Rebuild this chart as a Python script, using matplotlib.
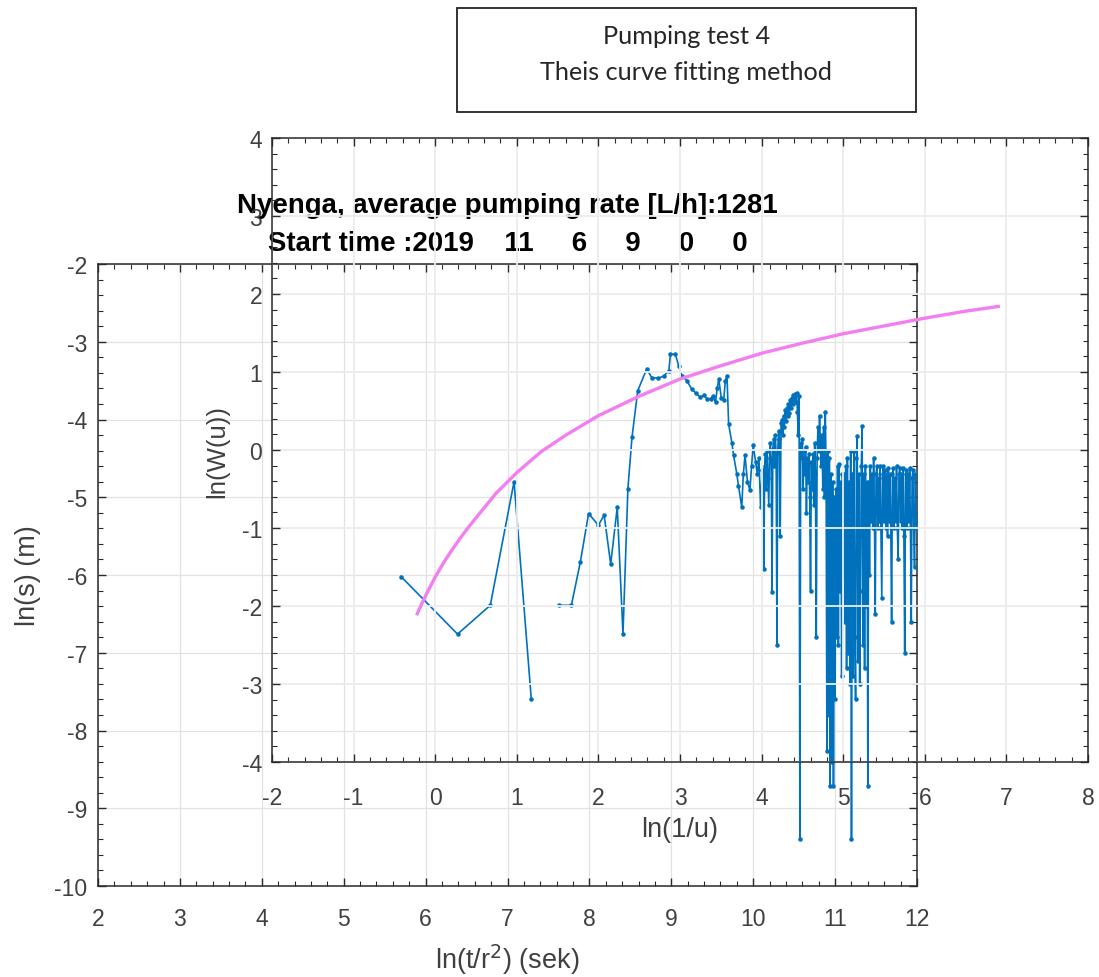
import numpy as np
import matplotlib
matplotlib.use("Agg")
import matplotlib.pyplot as plt
from matplotlib.ticker import MultipleLocator, AutoMinorLocator
from matplotlib.patches import Rectangle

plt.rcParams["axes.unicode_minus"] = False
nan = np.nan

# ---- measured drawdown data (back axes): ln(t/r^2) vs ln(s) ----
ln_t = [5.70, 6.39, 6.79, 7.08, 7.29, nan,
        7.63, 7.78, 7.89, 7.99, 8.11, 8.18, 8.26, 8.34, 8.41, 8.47, 8.52, 8.59,
        8.70, 8.76, 8.84, 8.91, 8.97, 8.99, 9.05, 9.09, 9.13, 9.19, 9.25, 9.30,
        9.35, 9.40, 9.44, 9.48, 9.51, 9.54, 9.56, 9.58, 9.61, 9.64, 9.66, 9.68,
        9.70, 9.74, 9.76, 9.80, 9.82, 9.86, 9.88, 9.90, 9.93, 9.96, 9.98, 10.00,
        10.03, 10.05, 10.07, 10.09, 10.11,
        10.12, 10.13, 10.14, 10.15, 10.16, 10.17, 10.18, 10.19, 10.20, 10.21,
        10.22, 10.23, 10.24, 10.25, 10.26, 10.27, 10.28, 10.29, 10.30, 10.31,
        10.32, 10.33, 10.34, 10.35, 10.36, 10.37, 10.38, 10.39, 10.40, 10.41,
        10.42, 10.43, 10.44, 10.45, 10.46, 10.47, 10.48, 10.49, 10.50, 10.51,
        10.52, 10.53, 10.54, 10.55, 10.56, 10.57, 10.58, 10.59, 10.60, 10.61,
        10.62, 10.63, 10.64, 10.65, 10.66, 10.67, 10.68, 10.69, 10.70, 10.71,
        10.72, 10.73, 10.74, 10.75, 10.76, 10.77, 10.78, 10.79, 10.80, 10.81,
        10.82, 10.83, 10.84, 10.85, 10.86, 10.87, 10.88, 10.89, 10.90, 10.91,
        10.92, 10.93, 10.94, 10.95, 10.96, 10.97, 10.98, 10.99, 11.00, 11.01,
        11.02, 11.03, 11.04, 11.05, 11.06, 11.07, 11.08, 11.09, 11.10, 11.11,
        11.12, 11.13, 11.14, 11.15, 11.16, 11.17, 11.18, 11.19, 11.20, 11.21,
        11.22, 11.23, 11.24, 11.25, 11.26, 11.27, 11.28, 11.29, 11.30, 11.31,
        11.32, 11.33, 11.34, 11.35, 11.36, 11.37, 11.38, 11.39, 11.40, 11.41,
        11.42, 11.43, 11.44, 11.45, 11.46, 11.47, 11.48, 11.49, 11.50, 11.51,
        11.52, 11.53, 11.54, 11.55, 11.56, 11.57, 11.58, 11.59, 11.60, 11.61,
        11.62, 11.63, 11.64, 11.65, 11.66, 11.67, 11.68, 11.69, 11.70, 11.71,
        11.72, 11.73, 11.74, 11.75, 11.76, 11.77, 11.78, 11.79, 11.80, 11.81,
        11.82, 11.83, 11.84, 11.85, 11.86, 11.87, 11.88, 11.89, 11.90, 11.91,
        11.92, 11.93, 11.94, 11.95, 11.96, 11.97, 11.98, 11.99, 12.00]
ln_s = [-6.02, -6.76, -6.39, -4.80, -7.59, nan,
        -6.39, -6.39, -5.83, -5.21, -5.36, -5.23, -5.86, -5.13, -6.76, -4.89, -4.23, -3.63,
        -3.35, -3.46, -3.47, -3.44, -3.37, -3.16, -3.16, -3.31, -3.44, -3.50, -3.61, -3.66,
        -3.71, -3.69, -3.74, -3.73, -3.70, -3.78, -3.60, -3.48, -3.72, -3.75, -3.50, -3.44,
        -4.06, -4.30, -4.46, -4.70, -4.85, -5.13, -4.70, -4.46, -4.80, -4.91, -4.60, -4.33,
        -4.55, -4.70, -4.50, -5.13, -4.65,
        -4.65, -5.92, -4.60, -4.45, -4.90, -4.40, -4.75, -5.10, -4.50, -4.30,
        -4.55, -6.22, -4.38, -4.25, -4.60, -4.20, -4.45, -6.90, -4.40, -4.15,
        -4.25, -5.50, -4.05, -4.00, -4.20, -3.95, -4.10, -3.88, -4.02, -3.85,
        -3.95, -3.80, -3.92, -3.75, -3.85, -3.72, -3.80, -3.68, -3.75, -3.67,
        -3.78, -3.66, -3.90, -4.20, -3.70, -9.39, -4.30, -4.50, -4.25, -4.90,
        -4.40, -4.70, -4.35, -5.20, -4.50, -4.80, -4.45, -5.00, -6.20, -4.55,
        -4.90, -4.45, -5.10, -4.30, -4.70, -6.80, -4.50, -4.10, -4.40, -3.95,
        -4.30, -4.60, -4.20, -4.90, -4.10, -5.00, -3.90, -4.60, -8.27, -4.40,
        -7.80, -4.50, -8.71, -4.70, -8.40, -4.80, -8.71, -5.00, -7.60, -4.90,
        -6.80, -4.60, -6.90, -4.57, -6.20, -4.80, -7.30, -4.70, -6.00, -4.70,
        -6.60, -4.60, -7.20, -4.50, -7.00, -4.80, -7.40, -4.40, -9.39, -4.70,
        -7.30, -4.40, -6.80, -7.60, -4.50, -4.21, -7.10, -4.70, -7.40, -6.20,
        -4.60, -4.08, -6.90, -4.70, -7.20, -4.60, -6.40, -4.80, -8.71, -4.80,
        -6.00, -4.60, -5.30, -4.70, -5.40, -4.50, -5.20, -6.50, -4.70, -4.60,
        -5.40, -4.75, -5.30, -4.60, -5.40, -6.30, -4.70, -4.60, -5.30, -4.65,
        -5.40, -4.70, -5.50, -4.62, -5.30, -4.70, -5.40, -6.60, -4.70, -4.62,
        -5.40, -4.75, -5.30, -4.60, -5.40, -5.80, -4.70, -4.62, -5.30, -4.70,
        -5.40, -4.62, -5.50, -7.00, -4.70, -4.65, -5.40, -4.70, -5.30, -4.62,
        -5.40, -6.60, -4.75, -4.65, -5.40, -5.90, -4.70, -5.30, -5.40]

# ---- Theis type curve (front axes): ln(1/u) vs ln(W(u)) ----
ln_inv_u = [-0.22, -0.16, -0.10, -0.05, 0.00, 0.05, 0.10, 0.15, 0.20, 0.30, 0.40, 0.50,
            0.75, 1.00, 1.30, 1.60, 2.00, 2.50, 3.00, 3.50, 4.00, 4.50, 5.00,
            5.50, 6.00, 6.50, 6.90]
ln_W = [-2.10, -1.96, -1.83, -1.73, -1.63, -1.54, -1.45, -1.37, -1.29, -1.14, -1.00, -0.87,
        -0.55, -0.29, -0.02, 0.19, 0.44, 0.69, 0.91, 1.08, 1.24, 1.37, 1.49,
        1.59, 1.69, 1.78, 1.84]

box_lines = ["Pumping test 4", "Theis curve fitting method"]
title_lines = ["Nyenga, average pumping rate [L/h]:1281",
               "Start time :2019    11     6     9     0     0"]

W, H = 1099, 978
fig = plt.figure(figsize=(W / 100, H / 100), dpi=100)
fig.patch.set_facecolor("white")

TICK_C = "#404040"
SPINE_C = "#2a2a2a"
FONT = ["Liberation Sans", "DejaVu Sans"]
TICK_FS = 16.5
LAB_FS = 19.5


def style(ax, grid_color, grid_lw):
    ax.tick_params(which="both", direction="in", top=True, right=True,
                   colors=SPINE_C, labelcolor=TICK_C, labelsize=TICK_FS)
    ax.tick_params(which="major", length=6, width=1.0)
    ax.tick_params(which="minor", length=3.5, width=0.8)
    ax.xaxis.set_minor_locator(AutoMinorLocator(5))
    ax.yaxis.set_minor_locator(AutoMinorLocator(5))
    ax.grid(True, which="major", color=grid_color, lw=grid_lw)
    for s in ax.spines.values():
        s.set_color(SPINE_C)
        s.set_linewidth(1.1)
    for lab in ax.get_xticklabels() + ax.get_yticklabels():
        lab.set_family(FONT)


# back axes
axb = fig.add_axes([98 / W, (H - 887) / H, 819 / W, 622 / H])
axb.set_xlim(2, 12)
axb.set_ylim(-10, -2)
axb.xaxis.set_major_locator(MultipleLocator(1))
axb.yaxis.set_major_locator(MultipleLocator(1))
axb.set_axisbelow(True)
style(axb, "#e2e2e2", 0.9)
axb.tick_params(axis="x", pad=15)
axb.tick_params(axis="y", pad=8)
axb.plot(ln_t, ln_s, "-", color="#0072BD", lw=1.2, marker=".", ms=4.5, zorder=3)
axb.set_xlabel("ln(t/r$^2$) (sek)", fontsize=LAB_FS, color=TICK_C, family=FONT)
axb.set_ylabel("ln(s) (m)", fontsize=LAB_FS, color=TICK_C, family=FONT)
axb.xaxis.set_label_coords(0.5, -(960 - 887) / 622)
axb.xaxis.label.set_va("center")
axb.yaxis.set_label_coords(-(98 - 28) / 819, 0.5)
axb.yaxis.label.set_va("center")
axb.text(0.5, 1 + (265 - 213) / 622, title_lines[0], transform=axb.transAxes,
         ha="center", va="baseline", fontsize=19.9, fontweight="bold",
         family=FONT, color="black", clip_on=False)
axb.text(0.5, 1 + (265 - 251) / 622, title_lines[1], transform=axb.transAxes,
         ha="center", va="baseline", fontsize=19.9, fontweight="bold",
         family=FONT, color="black", clip_on=False)

# front axes
axf = fig.add_axes([272 / W, (H - 763) / H, 816 / W, 624 / H])
axf.patch.set_alpha(0.0)
axf.set_xlim(-2, 8)
axf.set_ylim(-4, 4)
axf.xaxis.set_major_locator(MultipleLocator(1))
axf.yaxis.set_major_locator(MultipleLocator(1))
style(axf, "#ececec", 1.3)
axf.tick_params(axis="x", pad=17)
axf.tick_params(axis="y", pad=7)
axf.plot(ln_inv_u, ln_W, "-", color="#F27EF2", lw=2.4, zorder=3)
axf.set_xlabel("ln(1/u)", fontsize=LAB_FS, color=TICK_C, family=FONT)
axf.set_ylabel("ln(W(u))", fontsize=LAB_FS - 1, color=TICK_C, family=FONT)
axf.xaxis.set_label_coords(0.5, -(830 - 763) / 624)
axf.xaxis.label.set_va("center")
axf.yaxis.set_label_coords(-(272 - 217) / 816, 0.5)
axf.yaxis.label.set_va("center")

# annotation box
fig.patches.append(Rectangle((457 / W, (H - 113) / H), 459 / W, 104 / H,
                             transform=fig.transFigure, fill=False,
                             edgecolor="#222222", lw=1.3))
fig.text(686.5 / W, 1 - 37 / H, box_lines[0], ha="center", va="center",
         fontsize=18.2, family=["Lato", "DejaVu Sans"], color="#262626")
fig.text(686.5 / W, 1 - 73 / H, box_lines[1], ha="center", va="center",
         fontsize=18.2, family=["Lato", "DejaVu Sans"], color="#262626")

fig.savefig("out.png", dpi=100, facecolor="white")
